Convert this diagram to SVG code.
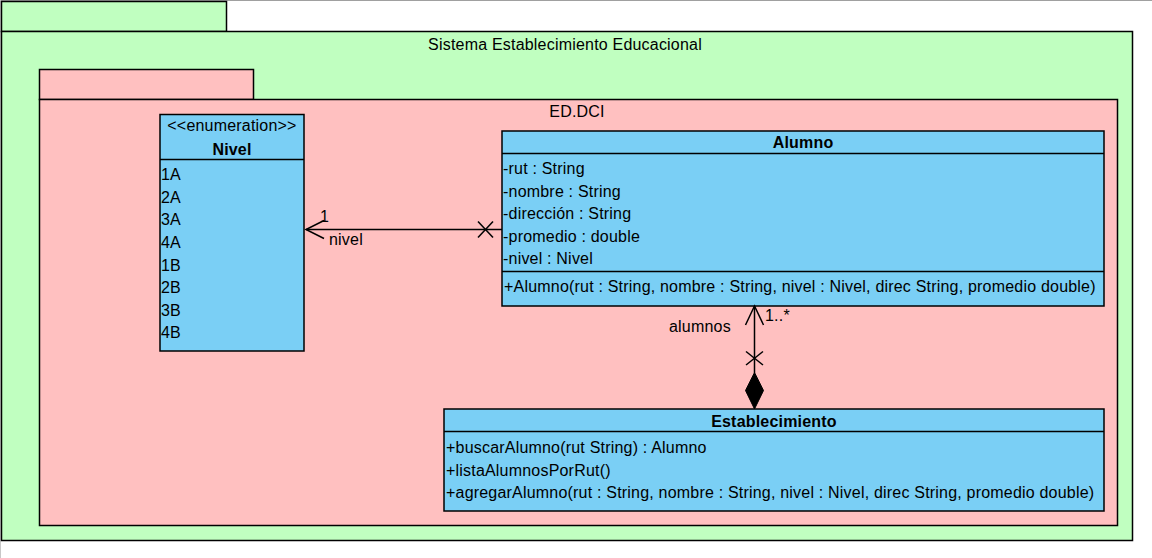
<svg xmlns="http://www.w3.org/2000/svg" width="1152" height="558" viewBox="0 0 1152 558">
<style>
text{font-family:"Liberation Sans",Arial,sans-serif;font-size:16px;letter-spacing:0.2px;fill:#000}
.b{font-weight:bold}
.m{text-anchor:middle}
.pkgO{fill:#C0FFC0;stroke:#000;stroke-width:1.5}
.pkgI{fill:#FFC0C0;stroke:#000;stroke-width:1.5}
.cls{fill:#7ACFF5;stroke:#000;stroke-width:1.5}
.ln{stroke:#000;stroke-width:1.5;fill:none}
</style>
<rect width="1152" height="558" fill="#fff"/>
<line x1="0" y1="0.5" x2="1152" y2="0.5" stroke="#a0a0a0"/>
<line x1="0.5" y1="0" x2="0.5" y2="558" stroke="#c8c8c8"/>
<g id="pkg-sistema">
<rect class="pkgO" x="1.5" y="1.5" width="225" height="30"/>
<rect class="pkgO" x="1.5" y="31.5" width="1131" height="509"/>
<text class="m" x="565" y="50">Sistema Establecimiento Educacional</text>
</g>
<g id="pkg-eddci">
<rect class="pkgI" x="39.5" y="69.5" width="214" height="30"/>
<rect class="pkgI" x="39.5" y="99.5" width="1078" height="426"/>
<text class="m" x="577" y="117">ED.DCI</text>
</g>
<g id="nivel">
<rect class="cls" x="160" y="114.5" width="144" height="236.5"/>
<line class="ln" x1="160" y1="159.5" x2="304" y2="159.5"/>
<text class="m" x="232" y="131">&lt;&lt;enumeration&gt;&gt;</text>
<text class="m b" x="232" y="155">Nivel</text>
<text x="161" y="180">1A</text>
<text x="161" y="203">2A</text>
<text x="161" y="225">3A</text>
<text x="161" y="248">4A</text>
<text x="161" y="271">1B</text>
<text x="161" y="293">2B</text>
<text x="161" y="316">3B</text>
<text x="161" y="338">4B</text>
</g>
<g id="alumno">
<rect class="cls" x="502" y="131" width="602" height="175"/>
<line class="ln" x1="502" y1="153.5" x2="1104" y2="153.5"/>
<line class="ln" x1="502" y1="271.5" x2="1104" y2="271.5"/>
<text class="m b" x="803" y="148">Alumno</text>
<text x="503" y="174">-rut : String</text>
<text x="503" y="196.5">-nombre : String</text>
<text x="503" y="219">-dirección : String</text>
<text x="503" y="241.5">-promedio : double</text>
<text x="503" y="264">-nivel : Nivel</text>
<text x="504" y="292">+Alumno(rut : String, nombre : String, nivel : Nivel, direc String, promedio double)</text>
</g>
<g id="establecimiento">
<rect class="cls" x="444" y="409" width="660" height="102"/>
<line class="ln" x1="444" y1="431.5" x2="1104" y2="431.5"/>
<text class="m b" x="774" y="427">Establecimiento</text>
<text x="446" y="453">+buscarAlumno(rut String) : Alumno</text>
<text x="446" y="475.5">+listaAlumnosPorRut()</text>
<text x="446" y="498">+agregarAlumno(rut : String, nombre : String, nivel : Nivel, direc String, promedio double)</text>
</g>
<g id="connectors">
<g id="alumno-nivel">
<line class="ln" x1="306" y1="229.5" x2="502" y2="229.5"/>
<polyline class="ln" points="324,220.5 306,229.5 324,238.5"/>
<line class="ln" x1="478" y1="221.5" x2="493" y2="237.5"/>
<line class="ln" x1="478" y1="237.5" x2="493" y2="221.5"/>
<text x="320" y="222">1</text>
<text x="329" y="245">nivel</text>
</g>
<g id="establecimiento-alumno">
<line class="ln" x1="754.5" y1="306" x2="754.5" y2="373"/>
<polyline class="ln" points="745.5,325 754.5,306 763.5,325"/>
<line class="ln" x1="746" y1="351.5" x2="763" y2="365"/>
<line class="ln" x1="746" y1="365" x2="763" y2="351.5"/>
<polygon points="754.5,372.5 763.5,390.5 754.5,409 745.5,390.5" fill="#000" stroke="#000" stroke-width="1"/>
<text x="765" y="321">1..*</text>
<text x="669" y="332">alumnos</text>
</g>
</g>
</svg>
